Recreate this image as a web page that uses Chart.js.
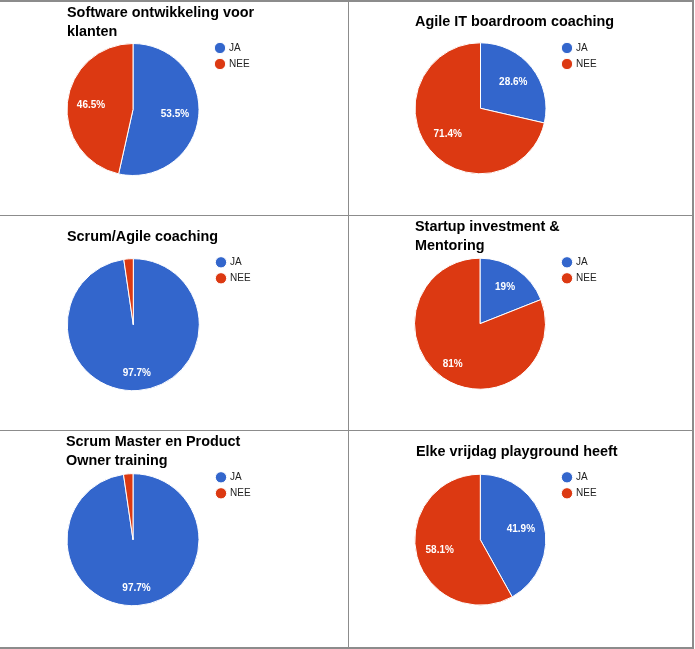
<!DOCTYPE html>
<html>
<head>
<meta charset="utf-8">
<script src="https://cdn.jsdelivr.net/npm/chart.js@4.4.1/dist/chart.umd.min.js"></script>
<style>
  body { margin: 0; background: #fff; }
  #page { position: relative; width: 695px; height: 649px; overflow: hidden; }
  #page canvas { position: absolute; }
  .line { position: absolute; background: #8c8c8c; }
</style>
</head>
<body>
<div id="page"></div>
<script>
const titles = [
  ['Software ontwikkeling voor', 'klanten'],
  'Agile IT boardroom coaching',
  'Scrum/Agile coaching',
  ['Startup investment &', 'Mentoring'],
  ['Scrum Master en Product', 'Owner training'],
  'Elke vrijdag playground heeft'
];
const categories = ['JA', 'NEE'];
const jaValues = [53.5, 28.6, 97.7, 19, 97.7, 41.9];
const neeValues = [46.5, 71.4, 2.3, 81, 2.3, 58.1];
const colors = ['#3366cc', '#dc3912'];

const FONT = '"Liberation Sans", Arial, sans-serif';

// table cells (page px): canvas box, title start, pie centre/radius, legend first dot
const cells = [
  { x: 0,   y: 1,   w: 347, h: 213, titleX: 67,  titleY: 13.5,  cx: 133,   cy: 109.5, r: 66,   legX: 220, legY: 48 },
  { x: 349, y: 1,   w: 343, h: 213, titleX: 415, titleY: 22,    cx: 480.5, cy: 108.3, r: 65.5, legX: 567, legY: 48 },
  { x: 0,   y: 216, w: 347, h: 213, titleX: 67,  titleY: 237,   cx: 133.3, cy: 324.7, r: 66,   legX: 221, legY: 262.3 },
  { x: 349, y: 216, w: 343, h: 213, titleX: 415, titleY: 227,   cx: 480,   cy: 323.7, r: 65.5, legX: 567, legY: 262.3 },
  { x: 0,   y: 431, w: 347, h: 215, titleX: 66,  titleY: 441.7, cx: 133,   cy: 539.7, r: 66,   legX: 221, legY: 477.3 },
  { x: 349, y: 431, w: 343, h: 215, titleX: 416, titleY: 452,   cx: 480.3, cy: 539.7, r: 65.5, legX: 567, legY: 477.3 }
];

const gridLines = [
  { x: 0,   y: 0,   w: 694, h: 1.5 },
  { x: 0,   y: 214.5, w: 694, h: 1.5 },
  { x: 0,   y: 429.5, w: 694, h: 1.5 },
  { x: 0,   y: 647, w: 694, h: 1.5 },
  { x: 347.5, y: 0, w: 1.5, h: 649 },
  { x: 692, y: 0,   w: 1.5, h: 649 }
];

// put the pie square and the legend where the spreadsheet had them
const placeParts = {
  id: 'placeParts',
  afterLayout(chart, args, o) {
    const a = chart.chartArea;
    a.left = o.cx - o.r; a.right = o.cx + o.r;
    a.top = o.cy - o.r; a.bottom = o.cy + o.r;
    a.width = a.height = 2 * o.r;
    const lg = chart.legend, lw = lg.width, lh = lg.height;
    lg.left = o.legX - 6 - 4;
    lg.top = o.legY - 6 - 5;
    lg.right = lg.left + lw;
    lg.bottom = lg.top + lh;
  }
};

// white percentage inside each slice
const sliceLabels = {
  id: 'sliceLabels',
  afterDatasetsDraw(chart) {
    const ctx = chart.ctx;
    const data = chart.data.datasets[0].data;
    const total = data.reduce((s, v) => s + v, 0);
    ctx.save();
    ctx.font = 'bold 10px ' + FONT;
    ctx.fillStyle = '#fff';
    ctx.textAlign = 'center';
    ctx.textBaseline = 'middle';
    chart.getDatasetMeta(0).data.forEach((arc, i) => {
      const share = data[i] / total;
      if (share < 0.05) return;
      const p = arc.getProps(['x', 'y', 'startAngle', 'endAngle', 'outerRadius'], true);
      const mid = (p.startAngle + p.endAngle) / 2;
      const d = p.outerRadius * (share > 0.75 ? 0.74 : share < 0.25 ? 0.68 : 0.64);
      ctx.fillText(+(share * 100).toFixed(1) + '%', p.x + Math.cos(mid) * d, p.y + Math.sin(mid) * d);
    });
    ctx.restore();
  }
};

const page = document.getElementById('page');

cells.forEach((c, i) => {
  const cv = document.createElement('canvas');
  cv.width = c.w; cv.height = c.h;
  cv.style.left = c.x + 'px'; cv.style.top = c.y + 'px';
  page.appendChild(cv);

  new Chart(cv, {
    type: 'pie',
    data: {
      labels: categories,
      datasets: [{
        data: [jaValues[i], neeValues[i]],
        backgroundColor: colors,
        borderColor: '#fff',
        borderWidth: 1,
        hoverOffset: 0,
        radius: c.r
      }]
    },
    options: {
      responsive: false,
      animation: false,
      events: [],
      layout: { padding: { left: c.titleX - c.x, right: 0, top: 0, bottom: 0 } },
      plugins: {
        title: {
          display: true,
          text: titles[i],
          align: 'start',
          color: '#000',
          font: { family: FONT, size: 14.4, weight: 'bold', lineHeight: 19 / 14.4 },
          padding: { top: c.titleY - c.y - 9.5, bottom: 0 }
        },
        legend: {
          position: 'right',
          align: 'start',
          labels: {
            usePointStyle: true,
            pointStyle: 'circle',
            boxWidth: 8,
            boxHeight: 8,
            padding: 6,
            color: '#222',
            font: { family: FONT, size: 10 }
          }
        },
        tooltip: { enabled: false },
        placeParts: { cx: c.cx - c.x, cy: c.cy - c.y, r: c.r, legX: c.legX - c.x, legY: c.legY - c.y }
      }
    },
    plugins: [placeParts, sliceLabels]
  });
});

gridLines.forEach(l => {
  const d = document.createElement('div');
  d.className = 'line';
  d.style.left = l.x + 'px'; d.style.top = l.y + 'px';
  d.style.width = l.w + 'px'; d.style.height = l.h + 'px';
  page.appendChild(d);
});
</script>
</body>
</html>
